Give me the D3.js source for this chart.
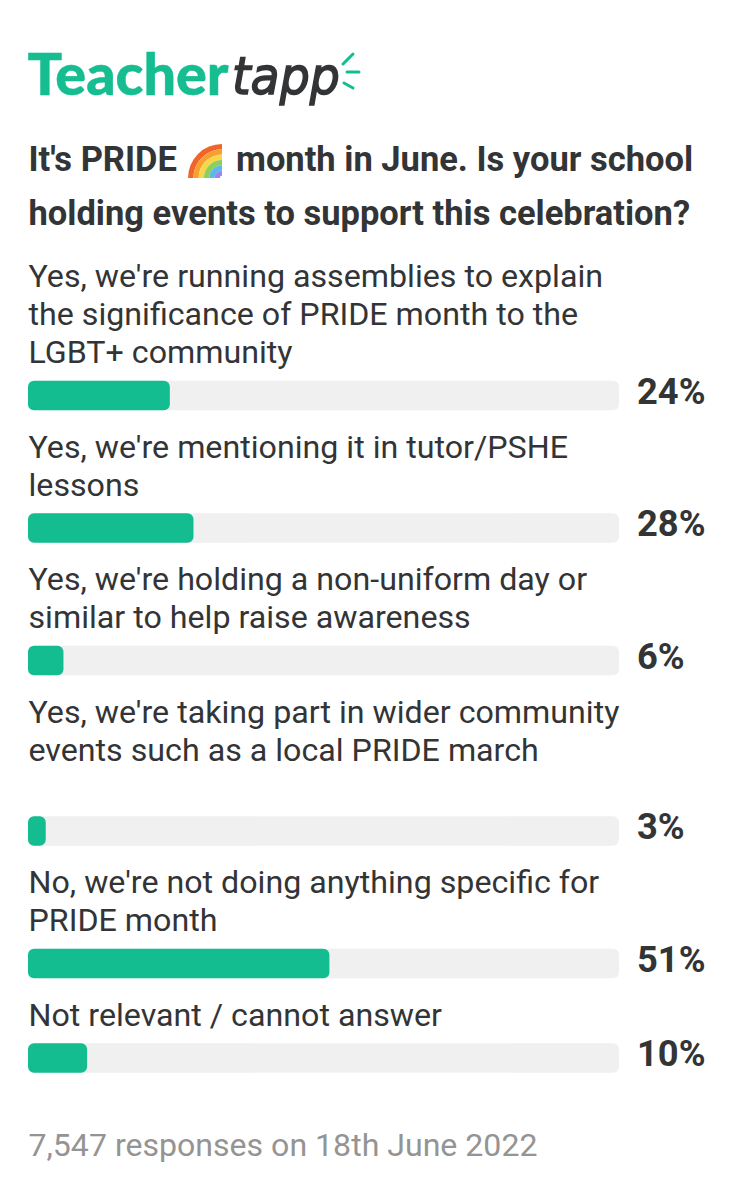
<!DOCTYPE html>
<html><head><meta charset="utf-8">
<script src="https://cdnjs.cloudflare.com/ajax/libs/d3/7.8.5/d3.min.js"></script>
<style>html,body{margin:0;padding:0;background:#fff}svg{display:block}text{font-family:Roboto,sans-serif}</style>
</head><body><svg id="c" width="735" height="1200"></svg>
<script>
const titleLines = ["It's PRIDE", "month in June. Is your school", "holding events to support this celebration?"];
const labelLines = [
 ["Yes, we're running assemblies to explain","the significance of PRIDE month to the","LGBT+ community"],
 ["Yes, we're mentioning it in tutor/PSHE","lessons"],
 ["Yes, we're holding a non-uniform day or","similar to help raise awareness"],
 ["Yes, we're taking part in wider community","events such as a local PRIDE march",""],
 ["No, we're not doing anything specific for","PRIDE month"],
 ["Not relevant / cannot answer"]
];
const values = [24,28,6,3,51,10];
const footer = "7,547 responses on 18th June 2022";
const rainbow = ["#f0662a","#f7a032","#f9d648","#8ccf5a","#5cb8e8","#9a86ee"];

const svg = d3.select("#c");
const x = d3.scaleLinear().domain([0,100]).range([28,619]);
const GREEN="#13bd90", DARK="#333436";

// logo
const logo = svg.append("g");
logo.append("text").attr("x",27.5).attr("y",94.5).attr("fill","#15bd90").attr("stroke","#15bd90").attr("stroke-width",0.5)
  .style("font-family","Lato").style("font-weight",900).style("font-size","58px")
  .attr("textLength",201).attr("lengthAdjust","spacingAndGlyphs").text("Teacher");
logo.append("text").attr("x",232).attr("y",94).attr("fill",DARK).attr("stroke",DARK).attr("stroke-width",1.5)
  .style("font-family","'DejaVu Sans'").style("font-style","oblique").style("font-size","52px")
  .attr("textLength",108).attr("lengthAdjust","spacingAndGlyphs").text("tapp");
[[343,64,353,54],[347,72,359,72],[344,83,353,88]].forEach(d=>logo.append("line")
  .attr("x1",d[0]).attr("y1",d[1]).attr("x2",d[2]).attr("y2",d[3])
  .attr("stroke",GREEN).attr("stroke-width",3).attr("stroke-linecap","round"));

// title
const title = svg.append("g").attr("fill",DARK).style("font-weight",700).style("font-size","34.5px");
title.append("text").attr("x",28.5).attr("y",171).text(titleLines[0]);
title.append("text").attr("x",236).attr("y",171).text(titleLines[1]);
title.append("text").attr("x",28.5).attr("y",225).text(titleLines[2]);

// rainbow emoji
const arc = d3.arc().startAngle(-Math.PI/2).endAngle(0);
const rb = svg.append("g").attr("transform","translate(222,178)");
rainbow.forEach((c,i)=>rb.append("path").attr("fill",c)
  .attr("d",arc({innerRadius:34-(i+1)*5.3,outerRadius:34-i*5.3})));

// rows
let base = 286.3;
labelLines.forEach((lines,i)=>{
  const g = svg.append("g");
  lines.forEach((l,j)=>g.append("text").attr("x",28.5).attr("y",base+j*38+1)
    .attr("fill",DARK).style("font-size","32.2px").text(l));
  const top = base+(lines.length-1)*38+18.5;
  g.append("rect").attr("x",x(0)).attr("y",top).attr("width",x(100)-x(0)).attr("height",29.5).attr("rx",6).attr("fill","#f0f0f0");
  g.append("rect").attr("x",x(0)).attr("y",top).attr("width",x(values[i])-x(0)).attr("height",29.5).attr("rx",6).attr("fill",GREEN);
  g.append("text").attr("x",637).attr("y",top+23).attr("fill",DARK)
    .style("font-weight",700).style("font-size","36.3px").text(values[i]+"%");
  base = top+29.5+46.5;
});

svg.append("text").attr("x",28.5).attr("y",1155.5).attr("fill","#949494").style("font-size","32.1px").text(footer);
</script></body></html>
